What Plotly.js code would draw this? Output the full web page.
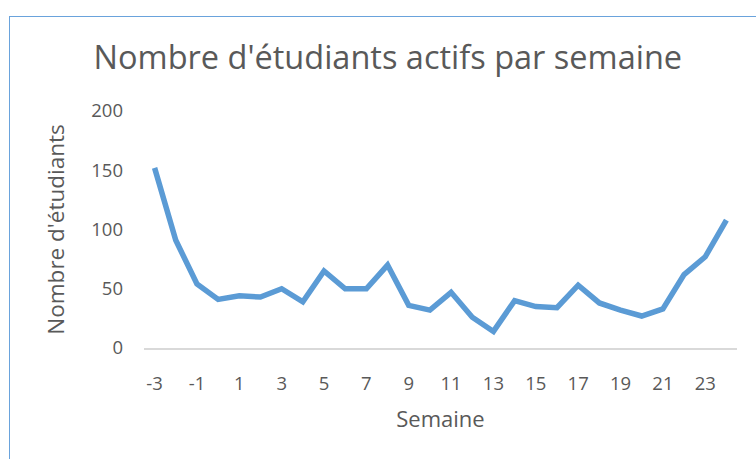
<!DOCTYPE html>
<html>
<head>
<meta charset="utf-8">
<script src="https://cdn.plot.ly/plotly-3.0.1.min.js"></script>
<style>
  html, body { margin: 0; padding: 0; background: #fff; overflow: hidden; }
  #chart { position: absolute; left: 0; top: 0; width: 756px; height: 459px; }
  #frame { position: absolute; left: 9px; top: 16px; width: 800px; height: 500px;
           border-left: 1.5px solid #6aa3dc; border-top: 1.5px solid #6aa3dc;
           pointer-events: none; }
</style>
</head>
<body>
<div id="chart"></div>
<div id="frame"></div>
<script>
const weeks = [-3, -2, -1, 0, 1, 2, 3, 4, 5, 6, 7, 8, 9, 10, 11, 12, 13, 14, 15, 16, 17, 18, 19, 20, 21, 22, 23, 24];
const students = [152, 91, 54, 41, 44, 43, 50, 39, 65, 50, 50, 70, 36, 32, 47, 26, 14, 40, 35, 34, 53, 38, 32, 27, 33, 62, 77, 108];
const xTicks = [-3, -1, 1, 3, 5, 7, 9, 11, 13, 15, 17, 19, 21, 23];
const yTicks = [0, 50, 100, 150, 200];

const grey = '#595959';
const font = 'Open Sans, Noto Sans, sans-serif';

const trace = {
  x: weeks,
  y: students,
  type: 'scatter',
  mode: 'lines',
  line: { color: '#5b9bd5', width: 5.5 },
  hoverinfo: 'x+y'
};

const layout = {
  width: 756,
  height: 459,
  paper_bgcolor: 'rgba(0,0,0,0)',
  plot_bgcolor: 'rgba(0,0,0,0)',
  margin: { l: 144, r: 19, t: 111, b: 111 },
  showlegend: false,
  font: { family: font, color: grey },
  title: {
    text: "Nombre d'étudiants actifs par semaine",
    font: { family: font, size: 32.5, color: grey },
    x: 0.513, xanchor: 'center',
    y: 0.875, yanchor: 'middle'
  },
  xaxis: {
    range: [-3.5, 24.5],
    tickvals: xTicks,
    ticktext: xTicks.map(String),
    showgrid: false,
    zeroline: false,
    showline: true,
    linecolor: '#d9d9d9',
    linewidth: 1.5,
    ticks: '',
    ticklabelstandoff: 18,
    tickfont: { family: font, size: 18.5, color: grey },
    title: { text: 'Semaine', font: { family: font, size: 22, color: grey }, standoff: 18 },
    fixedrange: true
  },
  yaxis: {
    range: [0, 200],
    tickvals: yTicks,
    ticktext: yTicks.map(String),
    showgrid: false,
    zeroline: false,
    showline: false,
    ticks: '',
    ticklabelstandoff: 20,
    tickfont: { family: font, size: 18.5, color: grey },
    title: { text: "Nombre d'étudiants", font: { family: font, size: 22.5, color: grey }, standoff: 20 },
    fixedrange: true
  }
};

Plotly.newPlot('chart', [trace], layout, { displayModeBar: false });
</script>
</body>
</html>
